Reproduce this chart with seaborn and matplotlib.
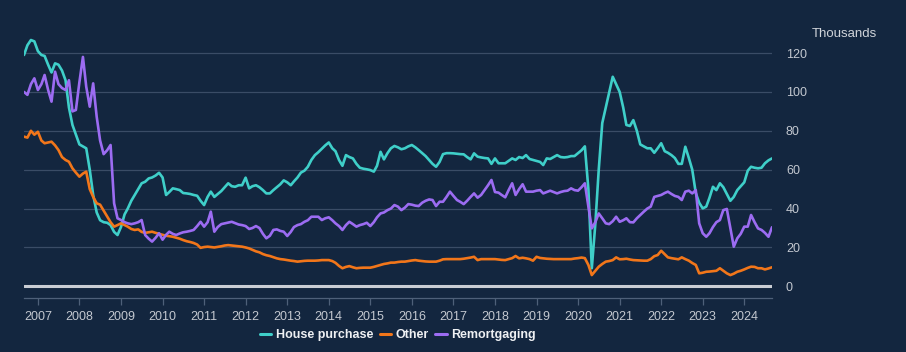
import pandas as pd
import numpy as np
import seaborn as sns
import matplotlib.pyplot as plt
import matplotlib.dates as mdates
from matplotlib.lines import Line2D

# monthly approvals, thousands, Sep 2006 - Sep 2024
house_purchase = [
    119, 124, 126.7, 126,                                              # 2006 Sep-Dec
    121, 119, 118.5, 114, 110, 114.7, 114, 111, 106, 92, 83, 78,       # 2007
    73, 72, 71, 60, 47, 38, 34, 33, 32.7, 31.5, 28, 26.4,              # 2008
    30.6, 37, 40, 44, 47, 50, 53, 53.8, 55.5, 56, 57, 58.4,            # 2009
    56, 47, 48.5, 50.4, 50, 49.5, 48, 47.8, 47.5, 47, 46.6, 44,        # 2010
    41.8, 46, 48.7, 46, 47.5, 49, 51, 53, 51.5, 51.2, 52, 52,          # 2011
    55.9, 50.4, 51.5, 52, 51, 49.5, 47.8, 47.8, 49.5, 51, 52.5, 54.5,  # 2012
    53.5, 52, 54, 56, 58.5, 59.5, 61.5, 65, 67.5, 69, 70.8, 72.5,      # 2013
    74, 71, 69.5, 65, 62, 67.5, 66.5, 65.8, 63, 61, 60.5, 60.2,        # 2014
    59.8, 59, 62, 69.2, 65.3, 68.5, 71, 72.2, 71.5, 70.5, 71, 72,      # 2015
    72.7, 71.5, 70.1, 68.5, 67, 65, 63, 61.5, 64, 68, 68.5, 68.5,      # 2016
    68.4, 68.2, 68, 67.9, 66.5, 65.3, 68.4, 66.7, 66.3, 66, 65.8, 63,  # 2017
    65.8, 63.3, 63.3, 63.3, 64.5, 65.8, 65, 66.5, 66, 67.5, 65.5, 65,  # 2018
    64.5, 64, 62.4, 65.8, 65.5, 66.5, 67.5, 66.5, 66.3, 66.5, 67, 67,  # 2019
    68.5, 70, 72, 50, 9.3, 32, 60, 84, 92, 100, 107.8, 104,            # 2020
    100, 92, 83, 82.5, 85.5, 80, 73, 72, 71, 71, 68.7, 71,             # 2021
    73.6, 69.5, 68.7, 67.5, 66, 63, 63, 71.8, 66, 60, 48, 43,          # 2022
    40.1, 41, 45.5, 51.2, 49.5, 53, 51, 47.5, 44, 46, 49.5, 51.5,      # 2023
    53.5, 59.5, 61.5, 61, 60.7, 61, 63.3, 64.8, 65.8,                  # 2024 Jan-Sep
]
other = [
    77, 76.5, 80, 78,
    79.5, 75, 73.6, 74, 74.4, 72.5, 70.1, 66.5, 65, 64.1, 60.7, 58.5,
    56.4, 58, 59, 50, 46, 42.7, 42, 39, 36, 33, 30.7, 31.5,
    32.4, 31.5, 30.7, 29.5, 29, 29.3, 28, 27.5, 27.8, 28.1, 27.5, 27,
    26.5, 26, 25.8, 25.5, 25, 24.5, 23.8, 23.2, 22.8, 22.3, 21.5, 19.8,
    20.2, 20.4, 20.2, 20, 20.3, 20.6, 21, 21.2, 21, 20.8, 20.6, 20.4,
    20, 19.5, 18.8, 18, 17.5, 16.6, 16, 15.6, 15, 14.4, 14, 13.8,
    13.5, 13.2, 13, 12.7, 12.9, 13.1, 13.2, 13.2, 13.2, 13.3, 13.5, 13.5,
    13.5, 13, 12.1, 10.5, 9.3, 10, 10.4, 9.8, 9.3, 9.5, 9.6, 9.6,
    9.6, 10, 10.5, 11, 11.5, 11.8, 12.2, 12.2, 12.5, 12.7, 12.7, 13,
    13.3, 13.5, 13.2, 13, 12.8, 12.7, 12.7, 12.7, 13.2, 13.9, 14, 14,
    14, 14, 14, 14.2, 14.5, 14.8, 15.2, 13.5, 14, 14, 14, 14,
    14, 13.8, 13.6, 13.5, 14, 14.5, 15.6, 14.4, 14.7, 14.4, 14, 13.2,
    15.2, 14.6, 14.4, 14.2, 14.1, 14, 14, 14, 14, 14, 14, 14.3,
    14.5, 14.8, 14.5, 11, 5.8, 8, 10.1, 11.5, 12.7, 13, 13.5, 14.9,
    13.9, 14, 14.2, 13.8, 13.5, 13.4, 13.3, 13.2, 13.2, 14, 15.5, 16.1,
    18.3, 16.5, 14.9, 14.5, 14.2, 13.9, 14.9, 14, 13.2, 12, 11, 6.7,
    7, 7.5, 7.6, 7.8, 8, 9.3, 8, 6.7, 5.8, 6.5, 7.5, 8,
    8.7, 9.5, 10.1, 10, 9.3, 9.3, 8.7, 9.2, 9.8,
]
remortgaging = [
    100, 98.5, 104, 107,
    101, 104, 108.7, 101, 95, 110.4, 104, 102, 101, 106, 90, 90.7,
    105, 118, 102.7, 92.4, 104.4, 87.2, 75, 68, 70, 72.7, 42.7, 35,
    34.1, 33, 32.4, 32, 32.4, 33, 34.1, 26.4, 24.5, 23, 25, 27.3,
    24, 26.5, 28.1, 27, 26.4, 27.2, 27.8, 28.1, 28.5, 29, 31, 33.2,
    30.7, 33, 38.4, 28.1, 30.5, 32, 32.4, 32.8, 33.2, 32.5, 31.8, 31.5,
    31, 29.5, 30, 31, 30, 27, 24.7, 26, 29, 29.3, 28.5, 28.1,
    25.9, 28, 30.5, 31.5, 32, 33.2, 34, 35.8, 35.8, 35.8, 34.1, 35,
    35.5, 34, 32.4, 31, 29, 31.5, 33.2, 32, 30.7, 31.5, 32, 32.7,
    31, 33, 35.5, 37.5, 38, 39.2, 40, 41.8, 41, 39.2, 40.5, 42.3,
    42, 41.5, 41.3, 43, 44, 44.7, 44.4, 41.3, 43.5, 43.5, 46, 48.7,
    46.5, 44.4, 43.5, 42.3, 44, 46, 47.8, 45.6, 47, 49.5, 52, 54.7,
    48.5, 48.2, 47, 45.8, 49.5, 53, 47, 50, 52.5, 48.7, 48.7, 48.7,
    49.2, 49.5, 47.8, 48.5, 49.2, 48.5, 47.8, 48.5, 49, 49.2, 50.4, 49.5,
    49.2, 51, 53, 41, 29.8, 33, 37.5, 35, 32.4, 32, 33.5, 35.8,
    33.2, 34, 35, 33, 32.9, 35, 36.7, 38.4, 40, 41, 46, 46.5,
    47, 48, 48.7, 47.5, 46.5, 46, 44.4, 48.7, 49.2, 47.8, 49.5, 32.4,
    27.3, 25.5, 27.3, 30.5, 33, 34.1, 39.2, 39.8, 30, 20.4, 24.7, 27,
    30.7, 30.7, 36.7, 33, 29.8, 29, 27.5, 25.5, 30.4,
]
series_names = ["House purchase", "Other", "Remortgaging"]
dates = pd.date_range("2006-09-01", periods=len(house_purchase), freq="MS")

bg = "#13263f"
colors = {"House purchase": "#3fcfc9", "Other": "#f2761a", "Remortgaging": "#9c6cf2"}

df = pd.DataFrame({"date": dates,
                   "House purchase": house_purchase,
                   "Other": other,
                   "Remortgaging": remortgaging})
long_df = df.melt(id_vars="date", var_name="series", value_name="value")

sns.set_style("dark", {"axes.facecolor": bg, "figure.facecolor": bg})
plt.rcParams["font.family"] = ["Liberation Sans", "DejaVu Sans"]

fig = plt.figure(figsize=(9.06, 3.52), dpi=100)
ax = fig.add_axes([24 / 906, 54 / 352, 748 / 906, 264.4 / 352])
ax.set_facecolor(bg)

# grid lines first, then zero line
for v in range(20, 140, 20):
    ax.axhline(v, color="#3a4c66", lw=0.9, zorder=0)
ax.axhline(0, color="#c9cdd4", lw=2.2, zorder=1)

sns.lineplot(data=long_df, x="date", y="value", hue="series",
             hue_order=series_names, palette=colors, linewidth=1.9,
             legend=False, ax=ax, zorder=3)

ax.set_ylim(-6, 130)
ax.set_xlim(dates[0], dates[-1])
ax.set_xlabel("")
ax.set_ylabel("")

ax.yaxis.tick_right()
ax.set_yticks(range(0, 140, 20))
ax.tick_params(axis="y", length=0, pad=10, labelsize=9, labelcolor="#c3c8d0")

ax.xaxis.set_major_locator(mdates.YearLocator())
ax.xaxis.set_major_formatter(mdates.DateFormatter("%Y"))
ax.tick_params(axis="x", length=5, width=0.9, color="#4e6079", pad=4,
               labelsize=9, labelcolor="#c3c8d0", bottom=True)

for side in ["top", "left", "right"]:
    ax.spines[side].set_visible(False)
ax.spines["bottom"].set_color("#4e6079")
ax.spines["bottom"].set_linewidth(0.9)

fig.text(812 / 906, 1 - 34 / 352, "Thousands", ha="left", va="center",
         fontsize=9.5, color="#d0d4da")

handles = [Line2D([0], [0], color=colors[n], lw=2.2) for n in series_names]
fig.legend(handles, series_names, loc="center", bbox_to_anchor=(398 / 906, 1 - 335 / 352),
           ncol=3, frameon=False, handlelength=0.9, handletextpad=0.4, columnspacing=0.5,
           prop={"weight": "bold", "size": 9}, labelcolor="#eef0f3")

fig.savefig("out.png", dpi=100, facecolor=bg)
